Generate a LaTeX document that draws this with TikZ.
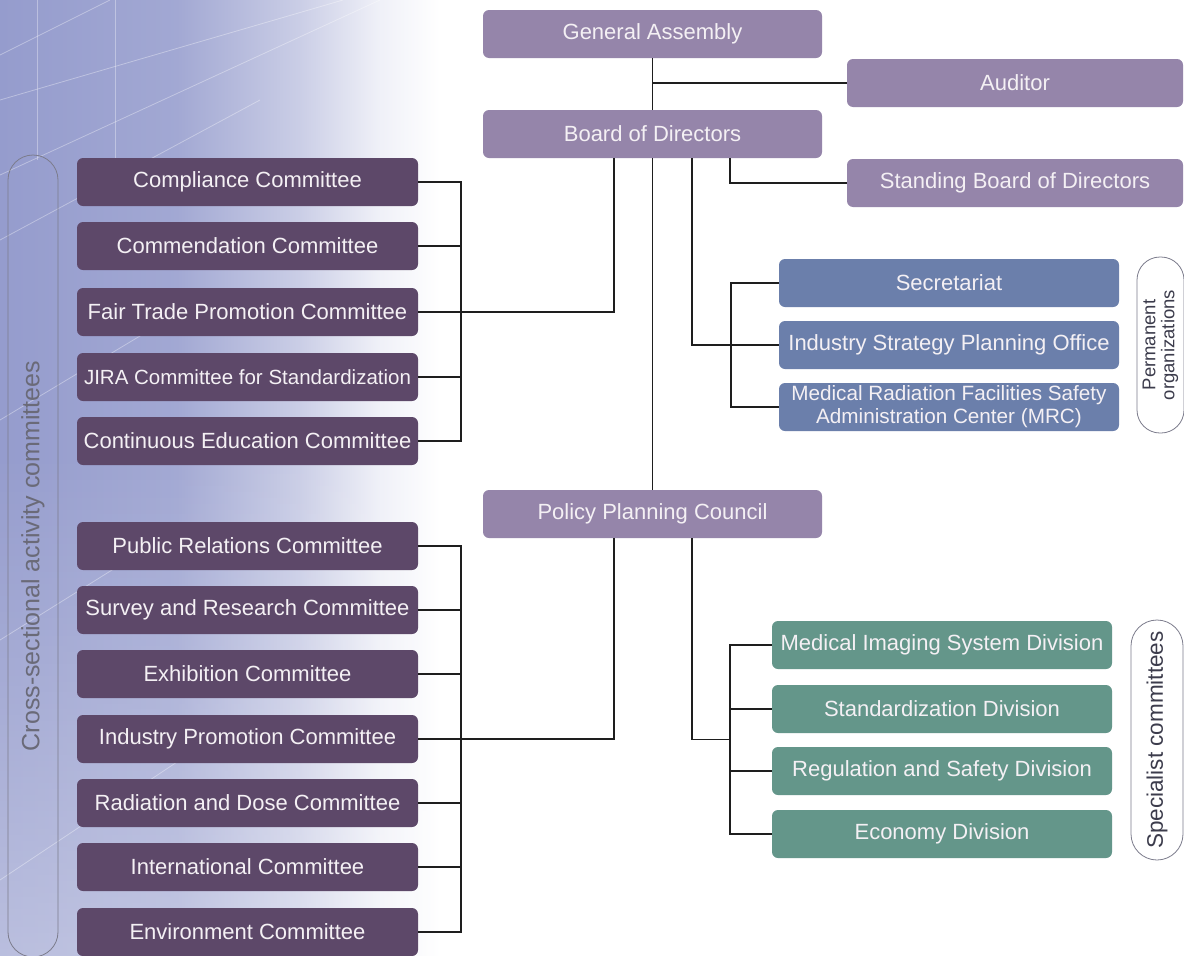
\documentclass[tikz,border=0pt]{standalone}
\usepackage{fontspec}
\setmainfont{Liberation Sans}
\usetikzlibrary{calc,fadings}
\definecolor{toppurple}{HTML}{9585AA}
\definecolor{darkpurple}{HTML}{5D4869}
\definecolor{permblue}{HTML}{6B7FAB}
\definecolor{divgreen}{HTML}{64968A}
\definecolor{bgblue}{HTML}{959CCD}
\definecolor{boxtext}{HTML}{F4F0F4}
\definecolor{linecol}{HTML}{1E1E1E}
\definecolor{pillgray}{HTML}{7C7C8C}
\definecolor{pilltext}{HTML}{6A6A78}
\definecolor{pilltextdark}{HTML}{3C3C4C}
\pgfdeclarehorizontalshading{bgshade}{100bp}{color(0bp)=(bgblue); color(25bp)=(bgblue); color(45bp)=(bgblue!88!white); color(59bp)=(bgblue!50!white); color(68bp)=(bgblue!15!white); color(75bp)=(white); color(100bp)=(white)}
\begin{document}
\begin{tikzpicture}[x=1pt,y=-1pt,
  box/.style={rounded corners=6pt, minimum height=48pt, inner sep=0pt, align=center, text=boxtext, font=\fontsize{22}{24}\selectfont},
  topbox/.style={box, fill=toppurple, minimum width=339pt},
  cbox/.style={box, fill=darkpurple, minimum width=341pt},
  pbox/.style={box, fill=permblue, minimum width=340pt},
  dbox/.style={box, fill=divgreen, minimum width=340pt},
  link/.style={line width=1.5pt, draw=linecol},
  pill/.style={draw=pillgray, line width=0.8pt, inner sep=0pt, align=center, rotate=90}]
\useasboundingbox (0,0) rectangle (1184,956);
% background
\begin{scope}
\clip (0,0) rectangle (1184,956);
\fill[white] (0,0) rectangle (1184,956);
\shade[shading=bgshade] (0,0) rectangle (440,956);
\fill[white, path fading=north, fill opacity=0.35] (0,450) rectangle (440,956);
\begin{scope}[white, opacity=0.35, line width=0.8pt]
\draw (0,55) -- (110,0);
\draw (0,100) -- (343,0);
\draw (0,175) -- (380,0);
\draw (37,0) -- (37,160);
\draw (115,0) -- (115,160);
\draw (0,240) -- (260,100);
\draw (0,420) -- (200,300);
\draw (0,640) -- (160,540);
\draw (0,880) -- (180,760);
\end{scope}
\end{scope}
% top boxes
\node[topbox] (ga) at (652.5,34) {General Assembly};
\node[topbox, minimum width=336pt] (aud) at (1015,83) {Auditor};
\node[topbox] (bod) at (652.5,134) {Board of Directors};
\node[topbox, minimum width=336pt] (sbd) at (1015,183) {Standing Board of Directors};
\node[topbox] (ppc) at (652.5,514) {Policy Planning Council};
% left committees group 1
\node[cbox] (comp) at (247.5,182) {Compliance Committee};
\node[cbox] (comm) at (247.5,246) {Commendation Committee};
\node[cbox] (fair) at (247.5,312) {Fair Trade Promotion Committee};
\node[cbox, font=\fontsize{20.5}{23}\selectfont] (jira) at (247.5,377) {JIRA Committee for Standardization};
\node[cbox] (cont) at (247.5,441) {Continuous Education Committee};
% left committees group 2
\node[cbox] (pub) at (247.5,546) {Public Relations Committee};
\node[cbox] (surv) at (247.5,610) {Survey and Research Committee};
\node[cbox] (exh) at (247.5,674) {Exhibition Committee};
\node[cbox] (indp) at (247.5,739) {Industry Promotion Committee};
\node[cbox] (rad) at (247.5,803) {Radiation and Dose Committee};
\node[cbox] (intl) at (247.5,867) {International Committee};
\node[cbox] (env) at (247.5,932) {Environment Committee};
% permanent organizations
\node[pbox] (sec) at (949,283) {Secretariat};
\node[pbox] (ispo) at (949,345) {Industry Strategy Planning Office};
\node[pbox, font=\fontsize{20.7}{23}\selectfont] (mrc) at (949,407) {Medical Radiation Facilities Safety\\Administration Center (MRC)};
% divisions
\node[dbox] (mis) at (942,645) {Medical Imaging System Division};
\node[dbox] (std) at (942,709) {Standardization Division};
\node[dbox] (reg) at (942,771) {Regulation and Safety Division};
\node[dbox] (eco) at (942,834) {Economy Division};
% pills
\node[pill, minimum width=802pt, minimum height=50pt, rounded corners=25pt, text=pilltext, font=\fontsize{25}{27}\selectfont] (cross) at (33,556) {Cross-sectional activity committees};
\node[pill, minimum width=176pt, minimum height=47pt, rounded corners=23pt, text=pilltextdark, font=\fontsize{18.5}{19}\selectfont] (perm) at (1160.5,345) {Permanent\\organizations};
\node[pill, minimum width=240pt, minimum height=52pt, rounded corners=26pt, text=pilltextdark, font=\fontsize{22.5}{24}\selectfont] (spec) at (1157,740) {Specialist committees};
% connectors
\draw[link] (ga.south) -- (bod.north);
\draw[link] (aud.west) -- (aud.west -| ga.south);
\draw[link] ($(bod.south)+(77.5,0)$) |- (sbd.west);
\draw[link] (bod.south) -- (ppc.north);
\draw[link] ($(bod.south)+(-38.5,0)$) |- (fair.east);
\draw[link] ($(bod.south)+(39.5,0)$) |- (ispo.west);
\draw[link] (sec.west) -- ++(-48,0) |- (mrc.west);
% group 1 bracket
\draw[link] (comp.east) -- ++(43,0) |- (cont.east);
\draw[link] (comm.east) -- ++(43,0);
\draw[link] (jira.east) -- ++(43,0);
% group 2 bracket
\draw[link] (pub.east) -- ++(43,0) |- (env.east);
\draw[link] (surv.east) -- ++(43,0);
\draw[link] (exh.east) -- ++(43,0);
\draw[link] (rad.east) -- ++(43,0);
\draw[link] (intl.east) -- ++(43,0);
\draw[link] ($(ppc.south)+(-38.5,0)$) |- (indp.east);
% divisions bracket
\coordinate (divjoin) at ($($(mis.west)!0.5!(eco.west)$)+(-42,0)$);
\draw[link] (mis.west) -- ++(-42,0) |- (eco.west);
\draw[link] (std.west) -- ++(-42,0);
\draw[link] (reg.west) -- ++(-42,0);
\draw[link] ($(ppc.south)+(39.5,0)$) |- (divjoin);
\end{tikzpicture}
\end{document}
